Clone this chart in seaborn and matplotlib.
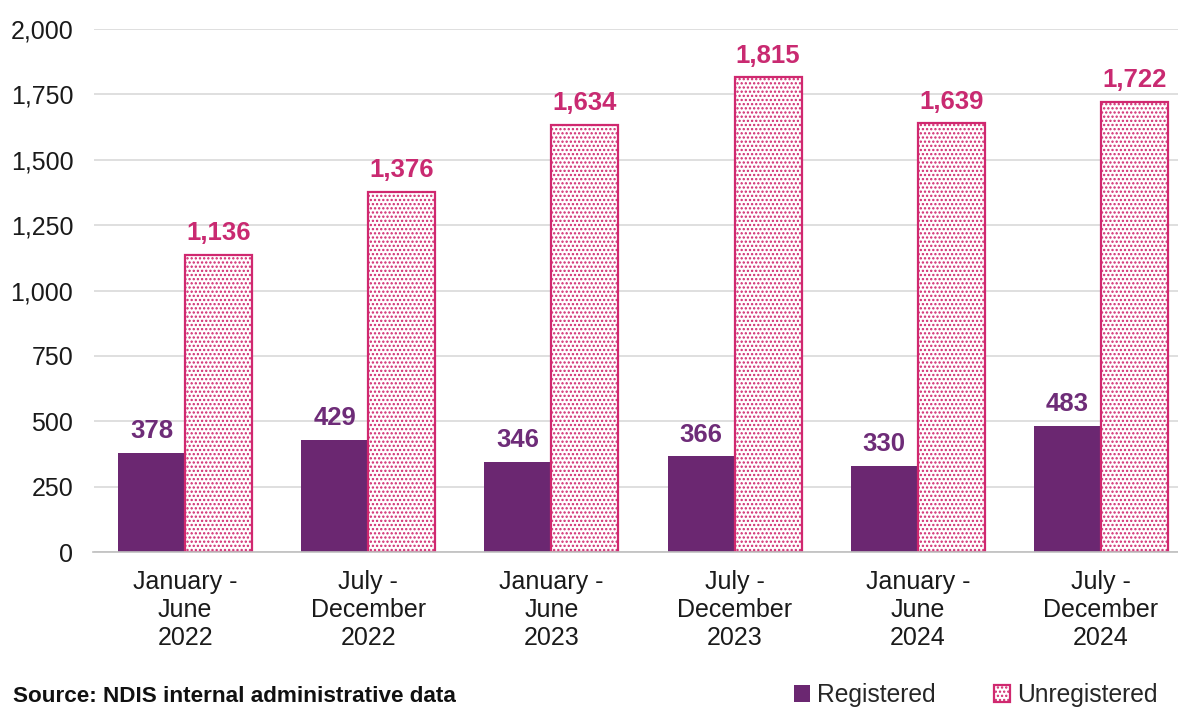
import matplotlib
matplotlib.use("Agg")
import matplotlib.pyplot as plt
import matplotlib.patches as mpatches
import seaborn as sns
import pandas as pd

periods = ["January -\nJune\n2022", "July -\nDecember\n2022",
           "January -\nJune\n2023", "July -\nDecember\n2023",
           "January -\nJune\n2024", "July -\nDecember\n2024"]
registered = [378, 429, 346, 366, 330, 483]
unregistered = [1136, 1376, 1634, 1815, 1639, 1722]
series = ["Registered", "Unregistered"]
yticks = [0, 250, 500, 750, 1000, 1250, 1500, 1750, 2000]

PURPLE = "#6B2771"
PINK = "#D0286F"
LABEL_PURPLE = "#6E2C78"
LABEL_PINK = "#C92A71"

df = pd.DataFrame({
    "Period": periods * 2,
    "Type": [series[0]] * len(periods) + [series[1]] * len(periods),
    "Count": registered + unregistered,
})

sns.set_theme(style="white")
plt.rcParams["font.family"] = ["Liberation Sans", "DejaVu Sans"]
plt.rcParams["hatch.linewidth"] = 1.1

fig = plt.figure(figsize=(11.78, 7.08), dpi=100)
W, H = 1178, 708
ax = fig.add_axes([93.5 / W, (H - 552) / H, (W - 93.5) / W, (552 - 29) / H])

sns.barplot(data=df, x="Period", y="Count", hue="Type", order=periods,
            hue_order=series, palette=[PURPLE, PINK], width=0.732, gap=0,
            saturation=1, ax=ax, legend=False)

reg_bars, unreg_bars = ax.containers[0], ax.containers[1]
for p in reg_bars:
    p.set_facecolor(PURPLE)
    p.set_edgecolor("none")
for p in unreg_bars:
    p.set_facecolor("white")
    p.set_edgecolor(PINK)
    p.set_linewidth(1.6)
    p.set_hatch("....")

ax.bar_label(reg_bars, labels=[f"{v:,}" for v in registered], padding=7,
             fontsize=18.5, fontweight="bold", color=LABEL_PURPLE)
ax.bar_label(unreg_bars, labels=[f"{v:,}" for v in unregistered], padding=7,
             fontsize=18.5, fontweight="bold", color=LABEL_PINK)

ax.set_ylim(0, 2000)
ax.set_xlim(-0.5, 5.5 - (1192.5 - W) / 183)
ax.set_yticks(yticks)
ax.set_yticklabels([f"{v:,}" for v in yticks], fontsize=18, color="#1a1a1a")
ax.tick_params(axis="x", labelsize=18, colors="#1a1a1a", pad=13, length=0)
ax.tick_params(axis="y", pad=14.5, length=0)
for lbl in ax.get_xticklabels():
    lbl.set_linespacing(1.2)
ax.set_xlabel("")
ax.set_ylabel("")
ax.yaxis.grid(True, color="#D9D9D9", linewidth=1.2)
ax.set_axisbelow(True)
for side in ["left", "right", "top"]:
    ax.spines[side].set_visible(False)
ax.spines["bottom"].set_color("#BFBFBF")
ax.spines["bottom"].set_linewidth(1.2)

handles = [
    mpatches.Patch(facecolor=PURPLE, edgecolor="none", label=series[0]),
    mpatches.Patch(facecolor="white", edgecolor=PINK, hatch="....",
                   linewidth=1.6, label=series[1]),
]
fig.legend(handles=handles, loc="center left", bbox_to_anchor=(794 / W, 1 - 695 / H),
           ncol=2, frameon=False, fontsize=17.7, handlelength=0.65, handleheight=0.65,
           handletextpad=0.28, columnspacing=2.4, borderaxespad=0, borderpad=0)

fig.text(13 / W, 1 - 697 / H, "Source: NDIS internal administrative data",
         fontsize=16.2, fontweight="bold", color="#111111", va="center", ha="left")

fig.savefig("out.png", dpi=100)
